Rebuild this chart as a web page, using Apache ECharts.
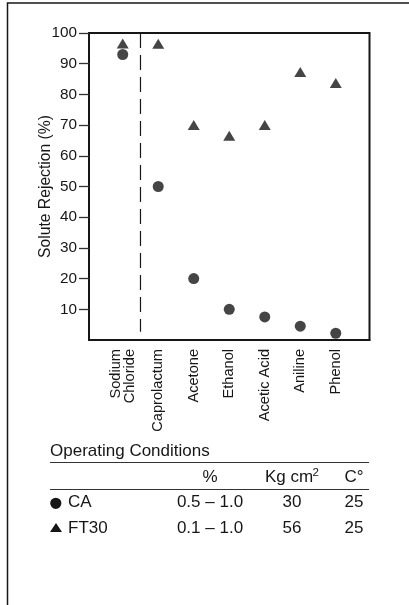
<!DOCTYPE html>
<html>
<head>
<meta charset="utf-8">
<script src="https://cdn.jsdelivr.net/npm/echarts@6/dist/echarts.min.js"></script>
<style>
html,body{margin:0;padding:0;background:#fff;}
#chart{width:409px;height:605px;}
</style>
</head>
<body>
<div id="chart"></div>
<script>
// Data
var categories = ['Sodium\nChloride', 'Caprolactum', 'Acetone', 'Ethanol', 'Acetic Acid', 'Aniline', 'Phenol'];
var caValues = [93, 50, 20, 10, 7.5, 4.5, 2.2];
var ft30Values = [96.6, 96.5, 70, 66.5, 70, 87.3, 83.7];
var yTicks = [10, 20, 30, 40, 50, 60, 70, 80, 90, 100];
var separatorX = 1.5;
var separatorRange = [100, 2.7];
var tableTitle = 'Operating Conditions';
var tableHeader = ['%', 'Kg cm', 'C\u00B0'];
var tableRows = [
  ['CA', '0.5 \u2013 1.0', '30', '25'],
  ['FT30', '0.1 \u2013 1.0', '56', '25']
];

var FONT = '"Liberation Sans", Arial, Helvetica, sans-serif';
var INK = '#161616';

var catPositions = categories.map(function (c, i) { return i + 1; });
function pairs(vals) { return vals.map(function (v, i) { return [i + 1, v]; }); }

var chart = echarts.init(document.getElementById('chart'), null, {renderer: 'canvas'});

var colX = [210, 292, 354];
var yTitle = 451, yLine1 = 462.5, yHead = 477.5, yLine2 = 489.5, yRow = [502.5, 528];
var TF = '17px ' + FONT;

var graphics = [
  // outer frame (top + left)
  {type: 'polyline', shape: {points: [[7.5, 605], [7.5, 3], [409, 3]]}, style: {stroke: INK, lineWidth: 1.5, fill: null}},
  {type: 'text', x: 50, y: yTitle, style: {text: tableTitle, font: TF, fill: INK, textAlign: 'left', textVerticalAlign: 'middle'}},
  {type: 'line', shape: {x1: 50, y1: yLine1, x2: 369, y2: yLine1}, style: {stroke: '#333', lineWidth: 1.2}},
  {type: 'line', shape: {x1: 50, y1: yLine2, x2: 369, y2: yLine2}, style: {stroke: '#333', lineWidth: 1.2}},
  {type: 'text', x: colX[0], y: yHead, style: {text: tableHeader[0], font: TF, fill: INK, textAlign: 'center', textVerticalAlign: 'middle'}},
  {type: 'text', x: 265, y: yHead, style: {text: tableHeader[1], font: TF, fill: INK, textAlign: 'left', textVerticalAlign: 'middle'}},
  {type: 'text', x: 312.5, y: 472.5, style: {text: '2', font: '11.5px ' + FONT, fill: INK, textAlign: 'left', textVerticalAlign: 'middle'}},
  {type: 'text', x: colX[2], y: yHead, style: {text: tableHeader[2], font: TF, fill: INK, textAlign: 'center', textVerticalAlign: 'middle'}},
  {type: 'circle', shape: {cx: 55.8, cy: 503.3, r: 5.6}, style: {fill: INK}},
  {type: 'polygon', shape: {points: [[50, 532], [62, 532], [56, 523]]}, style: {fill: INK}}
];
tableRows.forEach(function (row, r) {
  graphics.push({type: 'text', x: 68, y: yRow[r], style: {text: row[0], font: TF, fill: INK, textAlign: 'left', textVerticalAlign: 'middle'}});
  for (var c = 1; c < 4; c++) {
    graphics.push({type: 'text', x: colX[c - 1], y: yRow[r], style: {text: row[c], font: TF, fill: INK, textAlign: 'center', textVerticalAlign: 'middle'}});
  }
});

var option = {
  animation: false,
  backgroundColor: '#fff',
  textStyle: {fontFamily: FONT, color: INK},
  grid: {left: 89, top: 33, width: 280.5, height: 307, show: true, borderColor: INK, borderWidth: 2, backgroundColor: 'transparent'},
  xAxis: {
    type: 'value', min: 0.05, max: 7.95,
    axisLine: {show: true, lineStyle: {color: INK, width: 2}},
    axisTick: {show: false},
    splitLine: {show: false},
    axisLabel: {
      customValues: catPositions,
      rotate: 90, margin: 9,
      fontSize: 14.6, fontFamily: FONT, color: INK, lineHeight: 14.5,
      formatter: function (v) { return categories[Math.round(v) - 1] || ''; }
    }
  },
  yAxis: {
    type: 'value', min: 0, max: 100,
    name: 'Solute Rejection (%)', nameLocation: 'middle', nameGap: 35, nameRotate: 90,
    nameMoveOverlap: false,
    nameTextStyle: {fontSize: 15.7, fontFamily: FONT, color: INK},
    axisLine: {show: true, lineStyle: {color: INK, width: 2}},
    axisTick: {show: true, inside: false, length: 10, customValues: yTicks, lineStyle: {color: '#333', width: 1.3}},
    splitLine: {show: false},
    axisLabel: {customValues: yTicks, margin: 12, fontSize: 15.3, fontFamily: FONT, color: INK}
  },
  series: [
    {
      type: 'line', silent: true, showSymbol: false, symbol: 'none',
      data: [[separatorX, separatorRange[0]], [separatorX, separatorRange[1]]],
      lineStyle: {color: INK, width: 1.2, type: [15, 7]}, z: 1
    },
    {
      name: 'FT30', type: 'scatter', symbol: 'triangle', symbolSize: [12, 10],
      data: pairs(ft30Values), itemStyle: {color: INK}, z: 3
    },
    {
      name: 'CA', type: 'scatter', symbol: 'circle', symbolSize: 11,
      data: pairs(caValues), itemStyle: {color: INK}, z: 3
    }
  ],
  graphic: graphics
};
chart.setOption(option);
</script>
</body>
</html>
